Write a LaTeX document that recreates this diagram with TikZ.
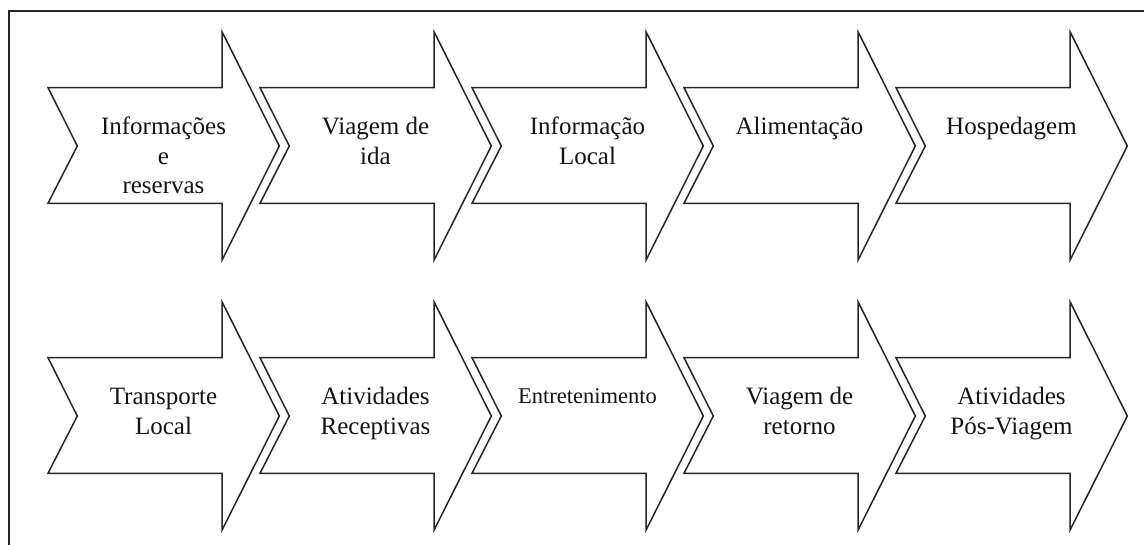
\documentclass[tikz,border=0pt]{standalone}
\usepackage{fontspec}
\setmainfont{Liberation Serif}
\definecolor{linegray}{HTML}{262626}
\definecolor{textgray}{HTML}{141414}
\tikzset{
  stagearrow/.style={draw=linegray, line width=1.5pt, line join=miter, fill=white},
  framestyle/.style={draw=linegray, line width=1.8pt},
  stagelabel/.style={anchor=base, inner sep=0pt, text=textgray},
  bigfont/.style={font=\fontsize{25}{29.5}\selectfont},
  smallfont/.style={font=\fontsize{22.5}{27}\selectfont},
  pics/chevronarrow/.style={code={
    \draw[stagearrow] (0,0) -- (174,0) -- (174,-56) -- (231.3,58.3) -- (174,172.5)
      -- (174,115.6) -- (0,115.6) -- (29.3,58.3) -- cycle;
  }}
}
\setlength{\tabcolsep}{0pt}
\begin{document}
\begin{tikzpicture}[x=1pt,y=-1pt]
\useasboundingbox (0,0) rectangle (1144,545);
\fill[white] (0,0) rectangle (1144,545);
% frame (cropped at right and bottom)
\draw[framestyle] (1144,11) -- (9,11) -- (9,545);
% arrows
\foreach \r in {0,1}{
  \foreach \i in {0,...,4}{
    \pic at ({48+212*\i},{87.7+270*\r}) {chevronarrow};
  }
}
% labels row 1
\node[stagelabel,bigfont] (a1) at (163.5,135) {\begin{tabular}[t]{c}Informações\\e\\reservas\end{tabular}};
\node[stagelabel,bigfont] (a2) at (375.5,135) {\begin{tabular}[t]{c}Viagem de\\ida\end{tabular}};
\node[stagelabel,bigfont] (a3) at (587.5,135) {\begin{tabular}[t]{c}Informação\\Local\end{tabular}};
\node[stagelabel,bigfont] (a4) at (799.5,135) {Alimentação};
\node[stagelabel,bigfont] (a5) at (1011.5,135) {Hospedagem};
% labels row 2
\node[stagelabel,bigfont] (b1) at (163.5,405) {\begin{tabular}[t]{c}Transporte\\Local\end{tabular}};
\node[stagelabel,bigfont] (b2) at (375.5,405) {\begin{tabular}[t]{c}Atividades\\Receptivas\end{tabular}};
\node[stagelabel,smallfont] (b3) at (587.5,403) {Entretenimento};
\node[stagelabel,bigfont] (b4) at (799.5,405) {\begin{tabular}[t]{c}Viagem de\\retorno\end{tabular}};
\node[stagelabel,bigfont] (b5) at (1011.5,405) {\begin{tabular}[t]{c}Atividades\\Pós-Viagem\end{tabular}};
\end{tikzpicture}
\end{document}
